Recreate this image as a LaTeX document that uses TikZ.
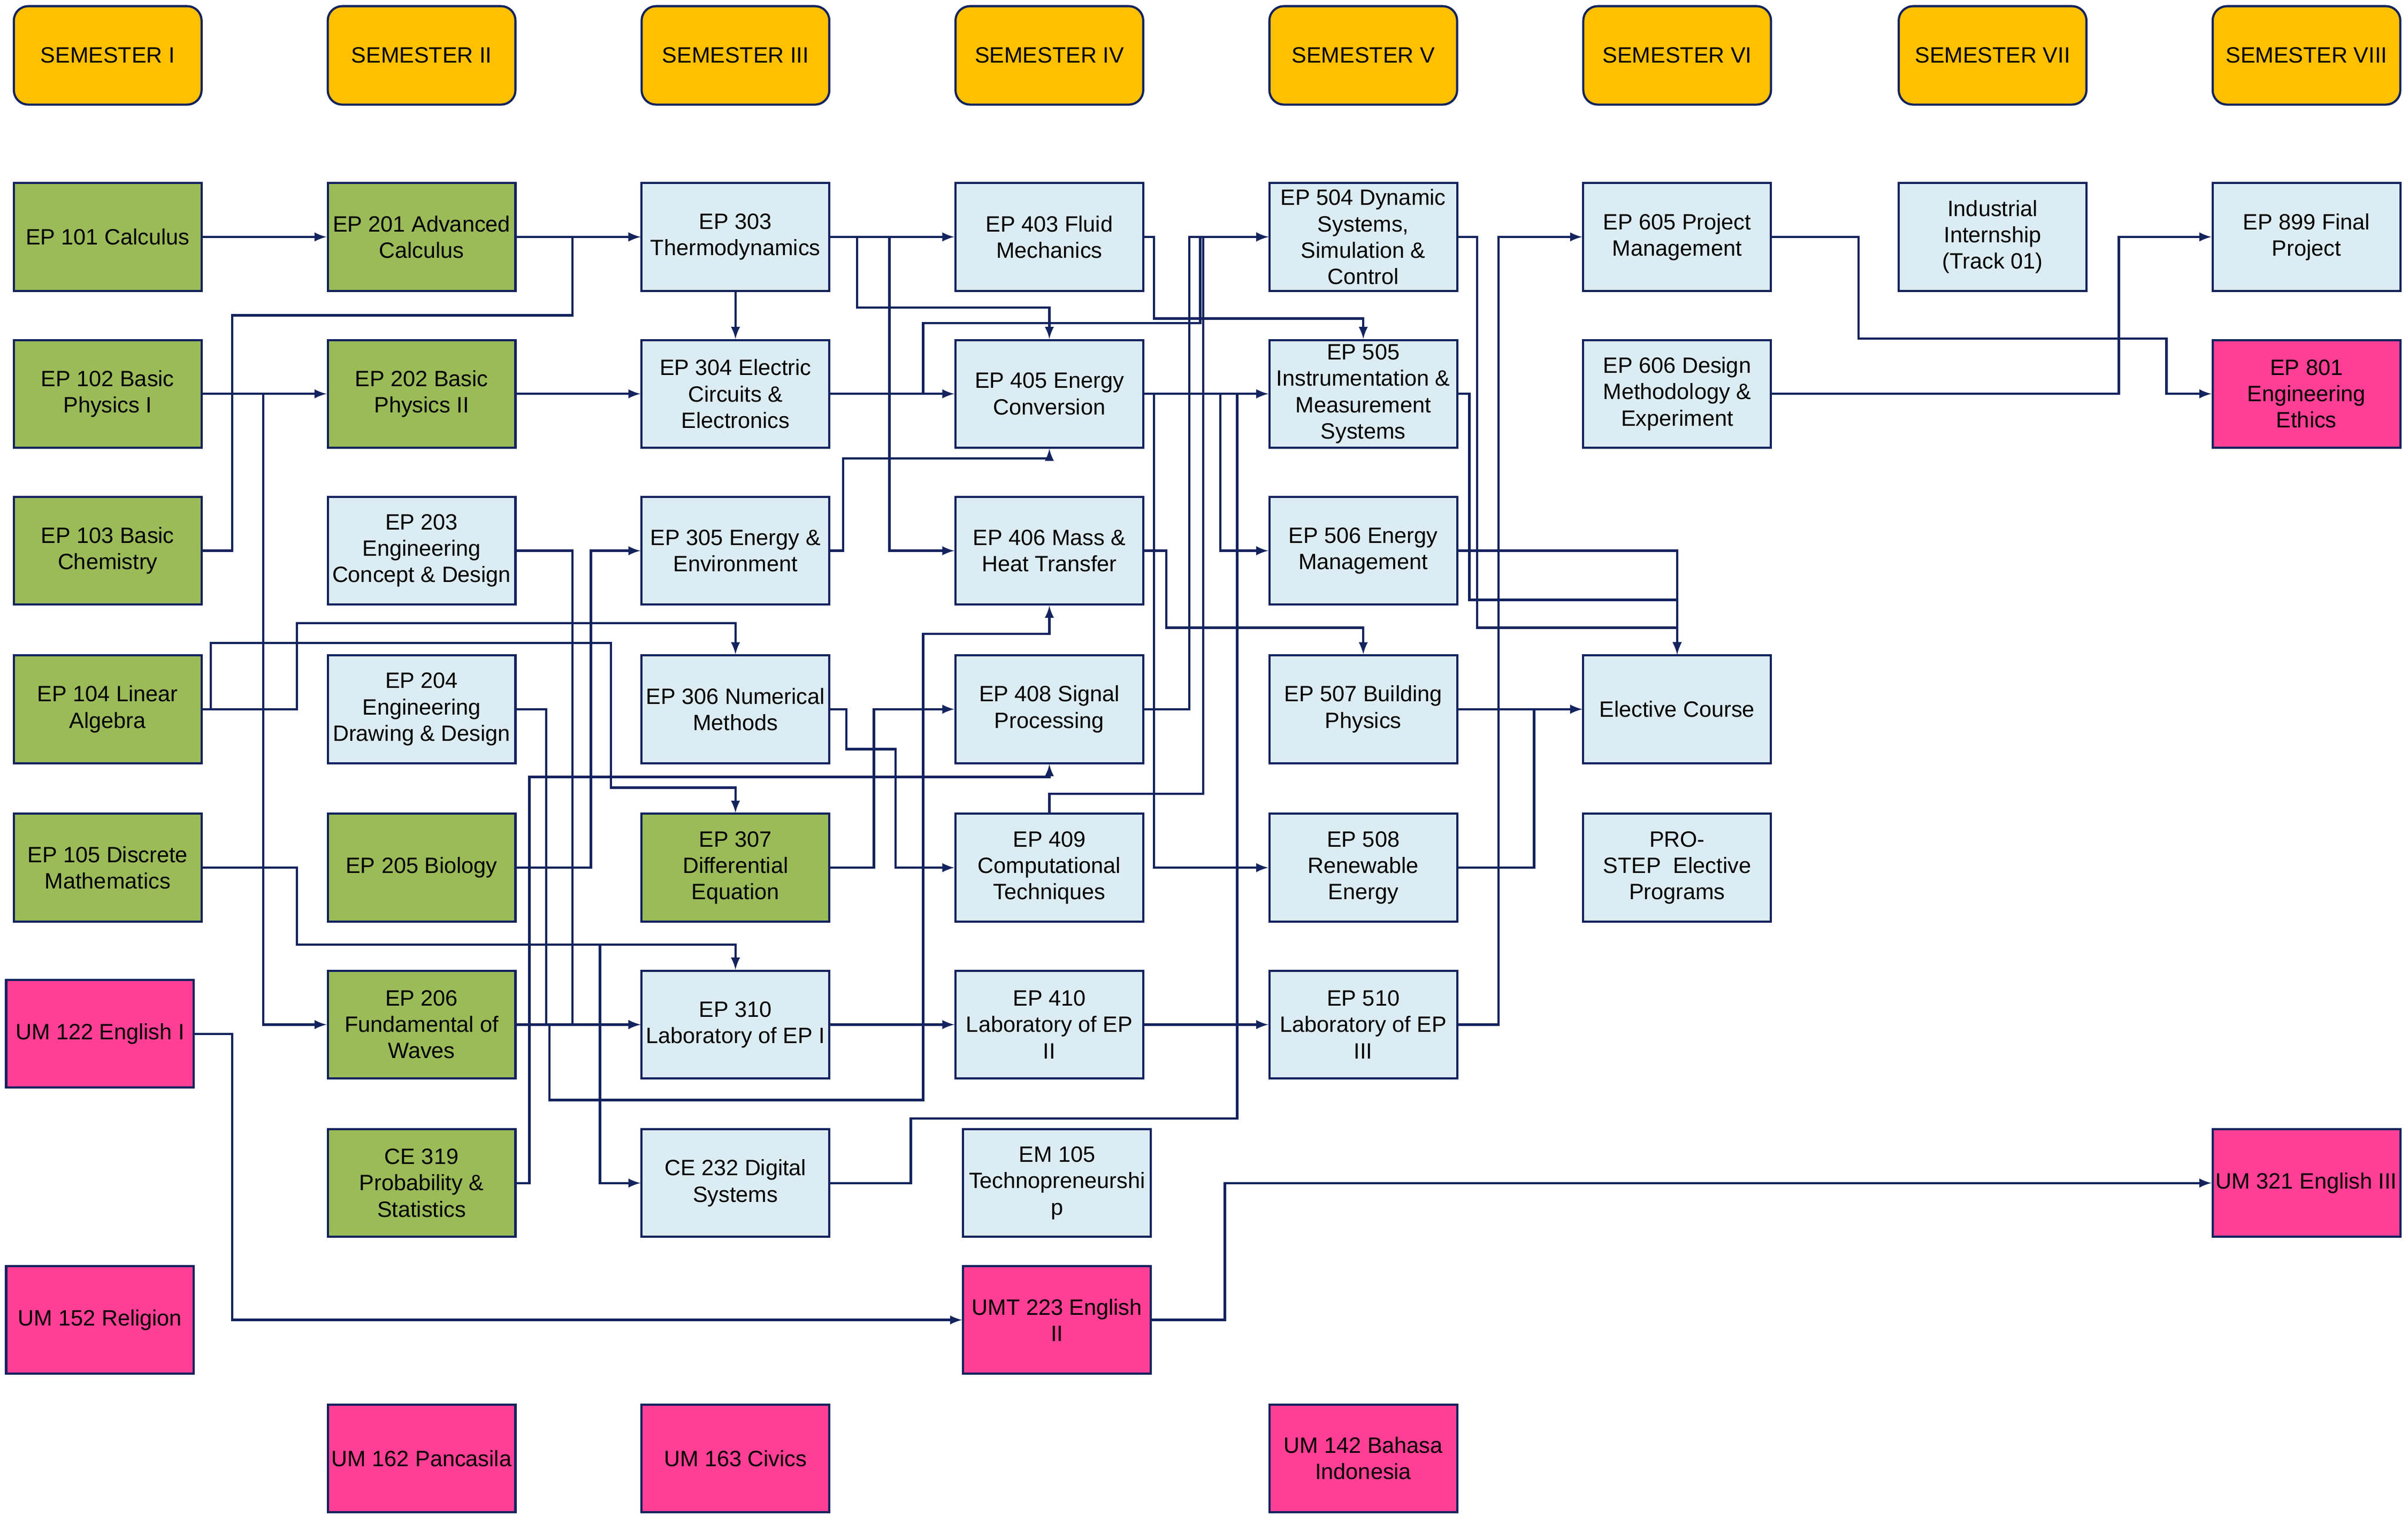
\documentclass[tikz,border=0pt]{standalone}
\usepackage{fontspec}
\setmainfont{Liberation Sans}
\usetikzlibrary{arrows}
\definecolor{navy}{HTML}{13235E}
\definecolor{sem}{HTML}{FFC000}
\definecolor{core}{HTML}{9BBB59}
\definecolor{major}{HTML}{DCECF3}
\definecolor{univ}{HTML}{FF3F96}
\tikzset{course/.style={draw=navy,line width=1.2pt,minimum width=3.66cm,minimum height=2.1cm,
                        align=center,inner sep=1pt,
                        font=\fontsize{12.3}{14.6}\selectfont}}
\tikzset{semester/.style={course,fill=sem,rounded corners=8pt,minimum height=1.92cm}}
\tikzset{basic/.style={course,fill=core}}
\tikzset{major/.style={course,fill=major}}
\tikzset{general/.style={course,fill=univ}}
\tikzset{link/.style={draw=navy,line width=1.3pt,-latex}}
\begin{document}
\begin{tikzpicture}[x=0.03cm,y=-0.03cm]
  \useasboundingbox (0,0) rectangle (1565,986);

  % semesters
  \node[semester] (s1) at (70,36) {SEMESTER I};
  \node[semester] (s2) at (274,36) {SEMESTER II};
  \node[semester] (s3) at (478,36) {SEMESTER III};
  \node[semester] (s4) at (682,36) {SEMESTER IV};
  \node[semester] (s5) at (886,36) {SEMESTER V};
  \node[semester] (s6) at (1090,36) {SEMESTER VI};
  \node[semester] (s7) at (1295,36) {SEMESTER VII};
  \node[semester] (s8) at (1499,36) {SEMESTER VIII};

  % semester I
  \node[basic] (ep101) at (70,154) {EP 101 Calculus};
  \node[basic] (ep102) at (70,256) {EP 102 Basic\\Physics I};
  \node[basic] (ep103) at (70,358) {EP 103 Basic\\Chemistry};
  \node[basic] (ep104) at (70,461) {EP 104 Linear\\Algebra};
  \node[basic] (ep105) at (70,564) {EP 105 Discrete\\Mathematics};
  \node[general] (um122) at (65,672) {UM 122 English I};
  \node[general] (um152) at (65,858) {UM 152 Religion};

  % semester II
  \node[basic] (ep201) at (274,154) {EP 201 Advanced\\Calculus};
  \node[basic] (ep202) at (274,256) {EP 202 Basic\\Physics II};
  \node[major] (ep203) at (274,358) {EP 203\\Engineering\\Concept \& Design};
  \node[major] (ep204) at (274,461) {EP 204\\Engineering\\Drawing \& Design};
  \node[basic] (ep205) at (274,564) {EP 205 Biology};
  \node[basic] (ep206) at (274,666) {EP 206\\Fundamental of\\Waves};
  \node[basic] (ce319) at (274,769) {CE 319\\Probability \&\\Statistics};
  \node[general] (um162) at (274,948) {UM 162 Pancasila};

  % semester III
  \node[major] (ep303) at (478,154) {EP 303\\Thermodynamics};
  \node[major] (ep304) at (478,256) {EP 304 Electric\\Circuits \&\\Electronics};
  \node[major] (ep305) at (478,358) {EP 305 Energy \&\\Environment};
  \node[major] (ep306) at (478,461) {EP 306 Numerical\\Methods};
  \node[basic] (ep307) at (478,564) {EP 307\\Differential\\Equation};
  \node[major] (ep310) at (478,666) {EP 310\\Laboratory of EP I};
  \node[major] (ce232) at (478,769) {CE 232 Digital\\Systems};
  \node[general] (um163) at (478,948) {UM 163 Civics};

  % semester IV
  \node[major] (ep403) at (682,154) {EP 403 Fluid\\Mechanics};
  \node[major] (ep405) at (682,256) {EP 405 Energy\\Conversion};
  \node[major] (ep406) at (682,358) {EP 406 Mass \&\\Heat Transfer};
  \node[major] (ep408) at (682,461) {EP 408 Signal\\Processing};
  \node[major] (ep409) at (682,564) {EP 409\\Computational\\Techniques};
  \node[major] (ep410) at (682,666) {EP 410\\Laboratory of EP\\II};
  \node[major] (em105) at (687,769) {EM 105\\Technopreneurshi\\p};
  \node[general] (umt223) at (687,858) {UMT 223 English\\II};

  % semester V
  \node[major] (ep504) at (886,154) {EP 504 Dynamic\\Systems,\\Simulation \&\\Control};
  \node[major] (ep505) at (886,256) {EP 505\\Instrumentation \&\\Measurement\\Systems};
  \node[major] (ep506) at (886,358) {EP 506 Energy\\Management};
  \node[major] (ep507) at (886,461) {EP 507 Building\\Physics};
  \node[major] (ep508) at (886,564) {EP 508\\Renewable\\Energy};
  \node[major] (ep510) at (886,666) {EP 510\\Laboratory of EP\\III};
  \node[general] (um142) at (886,948) {UM 142 Bahasa\\Indonesia};

  % semester VI to VIII
  \node[major] (ep605) at (1090,154) {EP 605 Project\\Management};
  \node[major] (ep606) at (1090,256) {EP 606 Design\\Methodology \&\\Experiment};
  \node[major] (elective) at (1090,461) {Elective Course};
  \node[major] (prostep) at (1090,564) {PRO-\\STEP\ \ Elective\\Programs};
  \node[major] (intern) at (1295,154) {Industrial\\Internship\\(Track 01)};
  \node[major] (ep899) at (1499,154) {EP 899 Final\\Project};
  \node[general] (ep801) at (1499,256) {EP 801\\Engineering\\Ethics};
  \node[general] (um321) at (1499,769) {UM 321 English III};

  % prerequisites
  \draw[link] (ep101) -- (ep201);
  \draw[link] (ep201) -- (ep303);
  \draw[link] (ep103.east) -- (151,358) -- (151,205) -- (372,205) |- (ep303.west);
  \draw[link] (ep102) -- (ep202);
  \draw[link] (ep102.east) -- (171,256) |- (ep206.west);
  \draw[link] (ep202) -- (ep304);
  \draw[link] (ep303) -- (ep304);
  \draw[link] (ep303) -- (ep403);
  \draw[link] (ep303.east) -- (557,154) -- (557,200) -- (682,200) -- (ep405.north);
  \draw[link] (ep303.east) -- (578,154) |- (ep406.west);
  \draw[link] (ep403.east) -- (750,154) -- (750,207) -- (886,207) -- (ep505.north);
  \draw[link] (ep304) -- (ep405);
  \draw[link] (ep304.east) -- (600,256) -- (600,210) -- (780,210) |- (ep504.west);
  \draw[link] (ep305.east) -- (548,358) -- (548,298) -- (682,298) -- (ep405.south);
  \draw[link] (ep405) -- (ep505);
  \draw[link] (ep405.east) -- (793,256) |- (ep506.west);
  \draw[link] (ep405.east) -- (750,256) |- (ep508.west);
  \draw[link] (ep406.east) -- (758,358) -- (758,408) -- (886,408) -- (ep507.north);
  \draw[link] (ep306.east) -- (550,461) -- (550,487) -- (582,487) |- (ep409.west);
  \draw[link] (ep307.east) -- (568,564) |- (ep408.west);
  \draw[link] (ep408.east) -- (773,461) |- (ep504.west);
  \draw[link] (ep409.north) -- (682,516) -- (782,516) |- (ep504.west);
  \draw[link] (ep310) -- (ep410);
  \draw[link] (ep410) -- (ep510);
  \draw[link] (ep510.east) -- (974,666) |- (ep605.west);
  \draw[link] (ep506.east) -- (1090,358) -- (elective.north);
  \draw[link] (ep504.east) -- (960,154) -- (960,408) -- (1090,408) -- (elective.north);
  \draw[link] (ep505.east) -- (955,256) -- (955,390) -- (1090,390) -- (elective.north);
  \draw[link] (ep507) -- (elective);
  \draw[link] (ep508.east) -- (997,564) |- (elective.west);
  \draw[link] (ep606.east) -- (1377,256) |- (ep899.west);
  \draw[link] (ep605.east) -- (1208,154) -- (1208,220) -- (1408,220) |- (ep801.west);
  \draw[link] (um122.east) -- (151,672) |- (umt223.west);
  \draw[link] (umt223.east) -- (796,858) |- (um321.west);
  \draw[link] (ce232.east) -- (592,769) -- (592,727) -- (804,727) |- (ep505.west);
  \draw[link] (ep206.east) -- (357,666) -- (357,715) -- (600,715) -- (600,412) -- (682,412) -- (ep406.south);
  \draw[link] (ce319.east) -- (344,769) -- (344,505) -- (682,505) -- (ep408.south);
  \draw[link] (ep104.east) -- (193,461) -- (193,405) -- (478,405) -- (ep306.north);
  \draw[link] (ep104.east) -- (137,461) -- (137,418) -- (397,418) -- (397,512) -- (478,512) -- (ep307.north);
  \draw[link] (ep105.east) -- (193,564) -- (193,614) -- (478,614) -- (ep310.north);
  \draw[link] (ep105.east) -- (193,564) -- (193,614) -- (390,614) |- (ce232.west);
  \draw[link] (ep203.east) -- (372,358) |- (ep310.west);
  \draw[link] (ep204.east) -- (355,461) |- (ep310.west);
  \draw[link] (ep205.east) -- (384,564) |- (ep305.west);
\end{tikzpicture}
\end{document}
